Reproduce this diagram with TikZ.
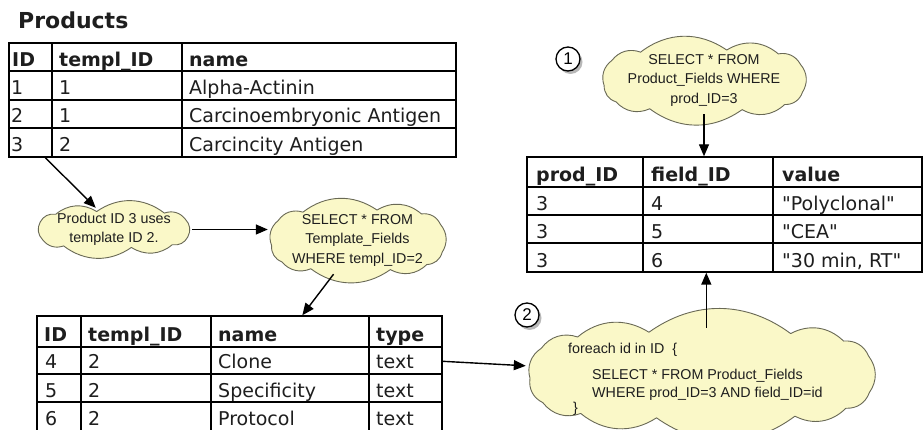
\documentclass[tikz,border=0pt]{standalone}
\usepackage{fontspec}
\setmainfont{DejaVu Sans}
% plain family: no TeX ligature mapping, so " stays a straight quote
\newfontfamily\cellfont{DejaVu Sans}
\newfontfamily\notefont{Liberation Sans}
\usetikzlibrary{arrows.meta,shadows,calc}
\definecolor{notefill}{RGB}{250,248,200}
\definecolor{noteline}{RGB}{105,105,85}
\definecolor{ink}{RGB}{30,30,30}
\tikzset{
  tablebox/.style={rectangle, draw=black, line width=1.4pt, inner sep=0pt},
  rule/.style={draw=black, line width=1.3pt},
  celltxt/.style={anchor=base west, inner sep=0pt, text=ink, font=\cellfont\fontsize{19}{22}\selectfont},
  headtxt/.style={celltxt, font=\cellfont\fontsize{19}{22}\selectfont\bfseries},
  notebody/.style={draw=noteline, fill=notefill, line width=0.9pt, line join=round},
  note/.style={rectangle, inner sep=0pt, align=center,
    text=ink, font=\notefont\fontsize{14.3}{19.5}\selectfont},
  notetxt/.style={anchor=base west, inner sep=0pt, text=ink, font=\notefont\fontsize{14.3}{19.5}\selectfont},
  arr/.style={-{Triangle[length=12pt,width=10pt]}, line width=1.4pt, draw=black},
  badge/.style={circle, draw=black, line width=1.3pt, fill=white, minimum size=24pt,
    inner sep=0pt, font=\notefont\fontsize{17}{17}\selectfont,
    drop shadow={shadow xshift=2.5pt, shadow yshift=-3pt, opacity=0.28, fill=black}}
}
% scalloped outline round a squarish ellipse: centre x, centre y, half width, half height, puffs
\newcommand\drawcloud[5]{%
  \foreach \k in {0,...,#5}{%
    \pgfmathsetmacro\cosv{cos(360*\k/#5+13)}%
    \pgfmathsetmacro\sinv{sin(360*\k/#5+13)}%
    \pgfmathsetmacro\px{#1+#3*sign(\cosv)*pow(abs(\cosv),0.6)}%
    \pgfmathsetmacro\py{#2+#4*sign(\sinv)*pow(abs(\sinv),0.6)}%
    \coordinate (cp\k) at (\px,\py);}%
  \draw[notebody] (cp0) \foreach \k in {1,...,#5}{ to[bend left=36] (cp\k)} -- cycle;}
\begin{document}
\begin{tikzpicture}[x=1pt, y=-1pt]
\clip (0,0) rectangle (924,430);
\fill[white] (0,0) rectangle (924,430);

% ---------- Products table ----------
\node[anchor=base west, inner sep=0pt, font=\cellfont\fontsize{22}{24}\selectfont\bfseries, text=ink] (title) at (18,29) {Products};
\node[tablebox, minimum width=447pt, minimum height=114pt] (prod) at (232.5,100) {};
\draw[rule] (9,71) -- (456,71) (9,100) -- (456,100) (9,128) -- (456,128);
\draw[rule] (52,43) -- (52,157) (182,43) -- (182,157);
\foreach \n/\x/\y/\t in {h1/12/67/ID, h2/59/67/templ\_ID, h3/189/67/name}
  \node[headtxt] (p\n) at (\x,\y) {\t};
\foreach \n/\x/\y/\t in {a1/11/95/1, a2/59/95/1, a3/189/95/Alpha-Actinin,
                         b1/11/123/2, b2/59/123/1, b3/189/123/Carcinoembryonic Antigen,
                         c1/11/152/3, c2/59/152/2, c3/189/152/Carcincity Antigen}
  \node[celltxt] (p\n) at (\x,\y) {\t};

% ---------- Template_Fields table ----------
\node[tablebox, minimum width=405pt, minimum height=118pt] (tmpl) at (239.5,375) {};
\draw[rule] (37,347) -- (442,347) (37,374) -- (442,374) (37,402) -- (442,402);
\draw[rule] (81,316) -- (81,434) (211,316) -- (211,434) (369,316) -- (369,434);
\foreach \n/\x/\y/\t in {h1/44/342/ID, h2/88/342/templ\_ID, h3/218/342/name, h4/376/342/type}
  \node[headtxt] (t\n) at (\x,\y) {\t};
\foreach \n/\x/\y/\t in {a1/45/369/4, a2/88/369/2, a3/218/369/Clone, a4/376/369/text,
                         b1/45/397/5, b2/88/397/2, b3/218/397/Specificity, b4/376/397/text,
                         c1/45/425/6, c2/88/425/2, c3/218/425/Protocol, c4/376/425/text}
  \node[celltxt] (t\n) at (\x,\y) {\t};

% ---------- Product_Fields table ----------
\node[tablebox, minimum width=395pt, minimum height=115pt] (pf) at (724.5,214.5) {};
\draw[rule] (527,187) -- (922,187) (527,215) -- (922,215) (527,243) -- (922,243);
\draw[rule] (643,157) -- (643,272) (773,157) -- (773,272);
\foreach \n/\x/\y/\t in {h1/536/182/prod\_ID, h2/651/182/field\_ID, h3/782/182/value}
  \node[headtxt] (f\n) at (\x,\y) {\t};
\foreach \n/\x/\y/\t in {a1/536/211/3, a2/651/211/4, a3/782/211/"Polyclonal",
                         b1/536/239/3, b2/651/239/5, b3/782/239/"CEA",
                         c1/536/268/3, c2/651/268/6, c3/782/268/{"30 min, RT"}}
  \node[celltxt] (f\n) at (\x,\y) {\t};

% ---------- Notes ----------
\drawcloud{114}{229.5}{75}{18}{10}
\node[note, minimum width=156pt, minimum height=43pt] (c1) at (114,229.5)
  {Product ID 3 uses\\template ID 2.};
\drawcloud{357.5}{240}{86}{30}{11}
\node[note, minimum width=179pt, minimum height=68pt] (c2) at (357.5,240)
  {SELECT * FROM\\Template\_Fields\\WHERE templ\_ID=2};
\drawcloud{704}{80}{100}{30}{11}
\node[note, minimum width=206pt, minimum height=68pt] (c3) at (704,80)
  {SELECT * FROM\\Product\_Fields WHERE\\prod\_ID=3};
\drawcloud{701}{375}{171}{43}{13}
\node[note, minimum width=350pt, minimum height=94pt] (c4) at (701,375) {};
\node[notetxt] (c4a) at (568,354) {foreach id in ID~~\{};
\node[notetxt] (c4b) at (592,379) {SELECT * FROM Product\_Fields};
\node[notetxt] (c4c) at (592,397) {WHERE prod\_ID=3 AND field\_ID=id};
\node[notetxt] (c4d) at (573,412) {\}};

% ---------- Step badges ----------
\node[badge] (n1) at (568,59) {1};
\node[badge] (n2) at (527,315) {2};

% ---------- Connectors ----------
\coordinate (prodout) at ($(prod.south west)+(37,0)$);
\coordinate (tmplin) at ($(tmpl.north west)+(266,0)$);
\coordinate (tmplout) at ($(tmpl.north east)+(0,46)$);
\coordinate (pfin) at ($(pf.south west)+(180,0)$);
\draw[arr] (prodout) -- (c1.130);
\draw[arr] (c1.east) -- (c1.east -| c2.west);
\draw[arr] (c2.235) -- (tmplin);
\draw[arr] (c3.south) -- (c3.south |- pf.north);
\draw[arr] (tmplout) -- (c4.177);
\draw[arr] (c4.north -| pfin) -- (pfin);
\end{tikzpicture}
\end{document}
